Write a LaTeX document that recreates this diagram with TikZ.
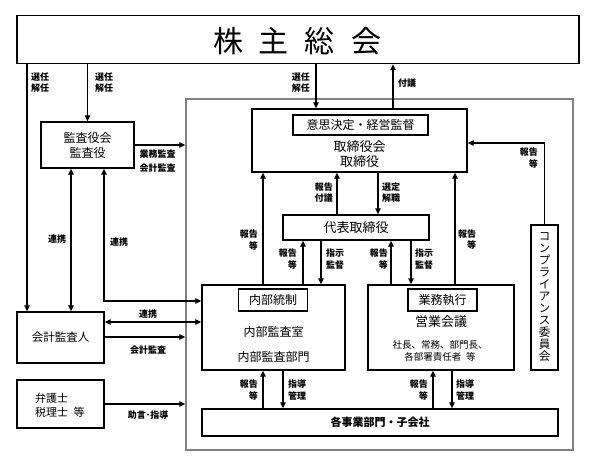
\documentclass[tikz,border=0pt]{standalone}
\usepackage{fontspec}
\newfontfamily\jp{Noto Sans CJK JP}
\usetikzlibrary{arrows.meta}
\begin{document}
\begin{tikzpicture}[x=1pt,y=-1pt,
  box/.style={draw, line width=1.4pt, inner sep=0pt},
  gbox/.style={draw=black!50, line width=1.5pt, inner sep=0pt},
  txt/.style={inner sep=0pt, align=center, font=\jp\fontsize{12}{15}\selectfont},
  lbl/.style={inner sep=0pt, font=\jp\bfseries\fontsize{9}{11.5}\selectfont},
  arr/.style={line width=1.1pt, -{Triangle[length=6pt,width=5.5pt]}},
  darr/.style={line width=1.1pt, {Triangle[length=6pt,width=5.5pt]}-{Triangle[length=6pt,width=5.5pt]}},
  line/.style={line width=1.1pt}
]
\useasboundingbox (0,0) rectangle (613,460);

% boxes
\node[box, minimum width=562, minimum height=48] (T) at (298,39.5) {};
\node[txt, font=\jp\fontsize{30}{30}\selectfont] (Tt) at (297,41) {株\hspace{16pt}主\hspace{16pt}総\hspace{16pt}会};
\node[gbox, minimum width=387, minimum height=351] (G) at (379.5,274.5) {};

\node[box, minimum width=93, minimum height=46] (A) at (87.5,145) {};
\node[txt] (At) at (87.5,145) {監査役会\\監査役};

\node[box, minimum width=215, minimum height=63] (B) at (359.5,140.5) {};
\node[box, minimum width=135, minimum height=20] (H) at (360.5,125) {};
\node[txt] (Ht) at (360.5,125) {意思決定・経営監督};
\node[txt, font=\jp\fontsize{13}{15}\selectfont] (Bt) at (359.5,154.5) {取締役会\\取締役};

\node[box, minimum width=146, minimum height=25] (R) at (356,227.5) {};
\node[txt, font=\jp\fontsize{13}{15}\selectfont] (Rt) at (356,227.5) {代表取締役};

\node[box, minimum width=143, minimum height=85] (I) at (273.5,327.5) {};
\node[box, minimum width=69, minimum height=22] (IH) at (273,300) {};
\node[txt] (IHt) at (273,300) {内部統制};
\node[txt, font=\jp\fontsize{12}{25}\selectfont] (It) at (273.5,344.5) {内部監査室\\内部監査部門};

\node[box, minimum width=146, minimum height=85] (E) at (441,327.5) {};
\node[box, minimum width=69, minimum height=22] (EH) at (442.5,300) {};
\node[txt] (EHt) at (442.5,300) {業務執行};
\node[txt, font=\jp\fontsize{13}{15}\selectfont] (Et) at (441,322) {営業会議};
\node[txt, font=\jp\fontsize{9.5}{12}\selectfont] (Es) at (440,351) {社長、常務、部門長、\\各部署責任者\hspace{0.5em}等};

\node[box, minimum width=356, minimum height=27] (D) at (380,422.5) {};
\node[txt, font=\jp\bfseries\fontsize{11}{13}\selectfont] (Dt) at (380,422.5) {各事業部門・子会社};

\node[box, minimum width=27, minimum height=145] (C) at (544.5,297.5) {};
\node[txt, font=\jp\fontsize{11.5}{12}\selectfont] (Ct) at (544.5,297.5) {コ\\ン\\プ\\ラ\\イ\\ア\\ン\\ス\\委\\員\\会};

\node[box, minimum width=87, minimum height=51] (K) at (60.5,337.5) {};
\node[txt, font=\jp\fontsize{11.5}{14}\selectfont] (Kt) at (60.5,337.5) {会計監査人};

\node[box, minimum width=87, minimum height=48] (L) at (60.5,404) {};
\node[txt, align=left, anchor=west, font=\jp\fontsize{11}{14}\selectfont] (Lt) at (35,405) {弁護士\\税理士\hspace{0.5em}等};

% coordinates
\coordinate (x27) at (27,0);
\coordinate (x71) at (71,0);
\coordinate (p104) at (104,301);
\coordinate (y322) at (0,322);
\coordinate (y337) at (0,337);
\coordinate (x316) at (316,0);
\coordinate (x393) at (393,0);
\coordinate (x263) at (263,0);
\coordinate (x337) at (337,0);
\coordinate (x378) at (378,0);
\coordinate (x303) at (303,0);
\coordinate (x321) at (321,0);
\coordinate (x391) at (391,0);
\coordinate (x411) at (411,0);
\coordinate (x455) at (455,0);
\coordinate (y143) at (0,143);
\coordinate (x283) at (283,0);
\coordinate (x433) at (433,0);
\coordinate (x452) at (452,0);

% connectors
\draw[arr] (T.south -| x27) -- (K.north -| x27);
\draw[arr] (T.south -| A.north) -- (A.north);
\draw[arr] (A.east) -- (A.east -| G.west);
\draw[darr] (A.south -| x71) -- (K.north -| x71);
\draw[darr] (A.south -| p104) -- (p104) -- (I.west |- p104);
\draw[darr] (K.east |- y322) -- (I.west |- y322);
\draw[arr] (K.east |- y337) -- (G.west |- y337);
\draw[arr] (L.east) -- (L.east -| G.west);
\draw[arr] (T.south -| x316) -- (B.north -| x316);
\draw[arr] (B.north -| x393) -- (T.south -| x393);
\draw[arr] (I.north -| x263) -- (B.south -| x263);
\draw[arr] (R.north -| x337) -- (B.south -| x337);
\draw[arr] (B.south -| x378) -- (R.north -| x378);
\draw[arr] (I.north -| x303) -- (R.south -| x303);
\draw[arr] (R.south -| x321) -- (I.north -| x321);
\draw[arr] (E.north -| x391) -- (R.south -| x391);
\draw[arr] (R.south -| x411) -- (E.north -| x411);
\draw[arr] (E.north -| x455) -- (B.south -| x455);
\draw[arr] (C.north) -- (C.north |- y143) -- (B.east |- y143);
\draw[arr] (D.north -| x263) -- (I.south -| x263);
\draw[arr] (I.south -| x283) -- (D.north -| x283);
\draw[arr] (D.north -| x433) -- (E.south -| x433);
\draw[arr] (E.south -| x452) -- (D.north -| x452);

% labels
\node[lbl, align=left, anchor=west] (l1) at (31,82.5) {選任\\解任};
\node[lbl, align=left, anchor=west] (l2) at (95,82.5) {選任\\解任};
\node[lbl, align=left, anchor=east] (l3) at (310,82.5) {選任\\解任};
\node[lbl, anchor=west] (l4) at (398,83) {付議};
\node[lbl, align=center, font=\jp\bfseries\fontsize{9}{14}\selectfont] (l5) at (157.5,161) {業務監査\\会計監査};
\node[lbl] (l6) at (57,239) {連携};
\node[lbl] (l7) at (119,242) {連携};
\node[lbl] (l8) at (148,314) {連携};
\node[lbl] (l9) at (148,350) {会計監査};
\node[lbl] (l10) at (148,415) {助言･指導};
\node[lbl, align=right, anchor=east] (l11) at (258,240) {報告\\等};
\node[lbl, align=right, anchor=east] (l12) at (333,192.5) {報告\\付議};
\node[lbl, align=left, anchor=west] (l13) at (382,192.5) {選定\\解職};
\node[lbl, align=right, anchor=east] (l14) at (297,259) {報告\\等};
\node[lbl, align=left, anchor=west] (l15) at (326,259) {指示\\監督};
\node[lbl, align=right, anchor=east] (l16) at (388,259) {報告\\等};
\node[lbl, align=left, anchor=west] (l17) at (415,259) {指示\\監督};
\node[lbl, align=right, anchor=west] (l18) at (458,239.5) {報告\\等};
\node[lbl, align=right, anchor=east] (l19) at (538,158) {報告\\等};
\node[lbl, align=right, anchor=east] (l20) at (258,390) {報告\\等};
\node[lbl, align=left, anchor=west] (l21) at (288,390) {指導\\管理};
\node[lbl, align=right, anchor=east] (l22) at (428,390) {報告\\等};
\node[lbl, align=left, anchor=west] (l23) at (456,390) {指導\\管理};
\end{tikzpicture}
\end{document}
